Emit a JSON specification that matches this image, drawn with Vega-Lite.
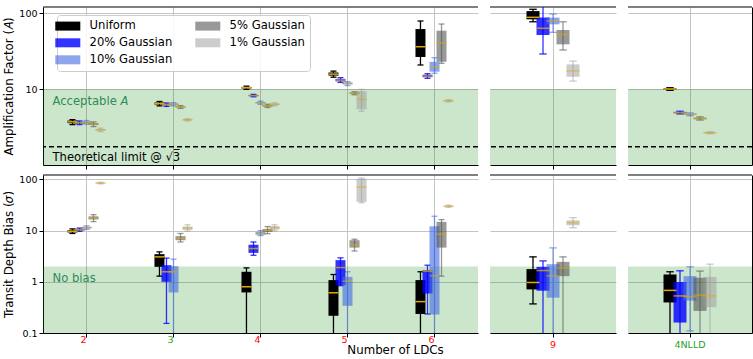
{
"$schema":"https://vega.github.io/schema/vega-lite/v6.json",
"padding":{"left":3,"top":6,"right":2,"bottom":0},
"data":{"values":[
{"metric":"A","ldc":"2","series":"Uniform","lo":3.4,"q1":3.55,"median":3.7,"q3":3.85,"hi":3.95},
{"metric":"A","ldc":"2","series":"20% Gaussian","lo":3.4,"q1":3.5,"median":3.6,"q3":3.7,"hi":3.8},
{"metric":"A","ldc":"2","series":"10% Gaussian","lo":3.45,"q1":3.55,"median":3.65,"q3":3.75,"hi":3.85},
{"metric":"A","ldc":"2","series":"5% Gaussian","lo":3.2,"q1":3.35,"median":3.45,"q3":3.58,"hi":3.7},
{"metric":"A","ldc":"2","series":"1% Gaussian","lo":2.75,"q1":2.83,"median":2.9,"q3":2.97,"hi":3.05},
{"metric":"A","ldc":"3","series":"Uniform","lo":6.0,"q1":6.25,"median":6.45,"q3":6.65,"hi":6.85},
{"metric":"A","ldc":"3","series":"20% Gaussian","lo":5.9,"q1":6.1,"median":6.25,"q3":6.4,"hi":6.55},
{"metric":"A","ldc":"3","series":"10% Gaussian","lo":6.0,"q1":6.15,"median":6.3,"q3":6.45,"hi":6.6},
{"metric":"A","ldc":"3","series":"5% Gaussian","lo":5.55,"q1":5.7,"median":5.8,"q3":5.92,"hi":6.05},
{"metric":"A","ldc":"3","series":"1% Gaussian","lo":3.8,"q1":3.87,"median":3.93,"q3":4.0,"hi":4.06},
{"metric":"A","ldc":"4","series":"Uniform","lo":9.9,"q1":10.15,"median":10.4,"q3":10.65,"hi":10.9},
{"metric":"A","ldc":"4","series":"20% Gaussian","lo":7.9,"q1":8.05,"median":8.2,"q3":8.35,"hi":8.5},
{"metric":"A","ldc":"4","series":"10% Gaussian","lo":6.3,"q1":6.45,"median":6.6,"q3":6.75,"hi":6.9},
{"metric":"A","ldc":"4","series":"5% Gaussian","lo":5.7,"q1":5.85,"median":6.0,"q3":6.15,"hi":6.3},
{"metric":"A","ldc":"4","series":"1% Gaussian","lo":6.0,"q1":6.15,"median":6.3,"q3":6.45,"hi":6.6},
{"metric":"A","ldc":"5","series":"Uniform","lo":14.3,"q1":15.0,"median":15.7,"q3":16.5,"hi":17.2},
{"metric":"A","ldc":"5","series":"20% Gaussian","lo":12.2,"q1":12.6,"median":13.1,"q3":13.6,"hi":14.1},
{"metric":"A","ldc":"5","series":"10% Gaussian","lo":11.1,"q1":11.5,"median":11.8,"q3":12.2,"hi":12.5},
{"metric":"A","ldc":"5","series":"5% Gaussian","lo":8.4,"q1":8.6,"median":8.8,"q3":9.0,"hi":9.2},
{"metric":"A","ldc":"5","series":"1% Gaussian","lo":5.1,"q1":5.4,"median":7.3,"q3":9.4,"hi":9.9},
{"metric":"A","ldc":"6","series":"Uniform","lo":20.7,"q1":26.4,"median":36,"q3":61.5,"hi":78.5},
{"metric":"A","ldc":"6","series":"20% Gaussian","lo":13.8,"q1":14.3,"median":14.8,"q3":15.4,"hi":15.9},
{"metric":"A","ldc":"6","series":"10% Gaussian","lo":16.1,"q1":16.9,"median":19.7,"q3":22.8,"hi":25.8},
{"metric":"A","ldc":"6","series":"5% Gaussian","lo":21.8,"q1":22.8,"median":40.6,"q3":58.5,"hi":71.7},
{"metric":"A","ldc":"6","series":"1% Gaussian","lo":6.75,"q1":6.88,"median":7.0,"q3":7.12,"hi":7.25},
{"metric":"A","ldc":"9","series":"Uniform","lo":76.7,"q1":82.6,"median":87.8,"q3":106,"hi":112},
{"metric":"A","ldc":"9","series":"20% Gaussian","lo":28.9,"q1":51.4,"median":63,"q3":87.3,"hi":130},
{"metric":"A","ldc":"9","series":"10% Gaussian","lo":55.7,"q1":71,"median":78.5,"q3":87,"hi":97},
{"metric":"A","ldc":"9","series":"5% Gaussian","lo":32.6,"q1":38.7,"median":52.3,"q3":59.8,"hi":76.7},
{"metric":"A","ldc":"9","series":"1% Gaussian","lo":12.7,"q1":14.5,"median":17.3,"q3":21.1,"hi":23.3},
{"metric":"A","ldc":"4NLLD","series":"Uniform","lo":9.6,"q1":9.8,"median":10.0,"q3":10.2,"hi":10.4},
{"metric":"A","ldc":"4NLLD","series":"20% Gaussian","lo":4.7,"q1":4.8,"median":4.9,"q3":5.0,"hi":5.1},
{"metric":"A","ldc":"4NLLD","series":"10% Gaussian","lo":4.45,"q1":4.55,"median":4.65,"q3":4.75,"hi":4.85},
{"metric":"A","ldc":"4NLLD","series":"5% Gaussian","lo":3.9,"q1":4.0,"median":4.1,"q3":4.2,"hi":4.3},
{"metric":"A","ldc":"4NLLD","series":"1% Gaussian","lo":2.58,"q1":2.62,"median":2.66,"q3":2.7,"hi":2.74},
{"metric":"B","ldc":"2","series":"Uniform","lo":8.8,"q1":9.2,"median":9.7,"q3":10.2,"hi":10.8},
{"metric":"B","ldc":"2","series":"20% Gaussian","lo":9.7,"q1":10.0,"median":10.4,"q3":10.8,"hi":11.2},
{"metric":"B","ldc":"2","series":"10% Gaussian","lo":10.6,"q1":11.0,"median":11.4,"q3":11.9,"hi":12.4},
{"metric":"B","ldc":"2","series":"5% Gaussian","lo":15,"q1":16.5,"median":17.7,"q3":19,"hi":20.5},
{"metric":"B","ldc":"2","series":"1% Gaussian","lo":82,"q1":83.5,"median":85,"q3":86.5,"hi":88},
{"metric":"B","ldc":"3","series":"Uniform","lo":1.29,"q1":1.96,"median":3.07,"q3":3.47,"hi":3.84},
{"metric":"B","ldc":"3","series":"20% Gaussian","lo":0.154,"q1":1.0,"median":1.57,"q3":2.11,"hi":2.9},
{"metric":"B","ldc":"3","series":"10% Gaussian","lo":0.05,"q1":0.62,"median":1.57,"q3":2.02,"hi":2.77},
{"metric":"B","ldc":"3","series":"5% Gaussian","lo":6.0,"q1":6.5,"median":7.1,"q3":7.8,"hi":8.8},
{"metric":"B","ldc":"3","series":"1% Gaussian","lo":9.8,"q1":10.3,"median":11.3,"q3":12.0,"hi":13.0},
{"metric":"B","ldc":"4","series":"Uniform","lo":0.05,"q1":0.62,"median":0.8,"q3":1.57,"hi":1.87},
{"metric":"B","ldc":"4","series":"20% Gaussian","lo":3.3,"q1":3.67,"median":4.46,"q3":5.3,"hi":6.0},
{"metric":"B","ldc":"4","series":"10% Gaussian","lo":8.0,"q1":8.3,"median":8.75,"q3":9.4,"hi":10.0},
{"metric":"B","ldc":"4","series":"5% Gaussian","lo":8.7,"q1":9.4,"median":10.1,"q3":10.8,"hi":12.0},
{"metric":"B","ldc":"4","series":"1% Gaussian","lo":10.0,"q1":10.5,"median":11.3,"q3":12.3,"hi":13.0},
{"metric":"B","ldc":"5","series":"Uniform","lo":0.05,"q1":0.217,"median":0.61,"q3":1.08,"hi":1.39},
{"metric":"B","ldc":"5","series":"20% Gaussian","lo":0.84,"q1":0.86,"median":1.9,"q3":2.65,"hi":2.94},
{"metric":"B","ldc":"5","series":"10% Gaussian","lo":0.05,"q1":0.34,"median":1.03,"q3":1.25,"hi":1.57},
{"metric":"B","ldc":"5","series":"5% Gaussian","lo":4.0,"q1":4.66,"median":5.2,"q3":6.5,"hi":6.8},
{"metric":"B","ldc":"5","series":"1% Gaussian","lo":35,"q1":36.3,"median":71,"q3":103,"hi":106},
{"metric":"B","ldc":"6","series":"Uniform","lo":0.05,"q1":0.235,"median":0.41,"q3":1.08,"hi":1.57},
{"metric":"B","ldc":"6","series":"20% Gaussian","lo":0.235,"q1":0.59,"median":1.62,"q3":1.69,"hi":2.11},
{"metric":"B","ldc":"6","series":"10% Gaussian","lo":0.05,"q1":0.23,"median":1.31,"q3":12.2,"hi":19.1},
{"metric":"B","ldc":"6","series":"5% Gaussian","lo":1.29,"q1":4.66,"median":8.5,"q3":14.8,"hi":16.4},
{"metric":"B","ldc":"6","series":"1% Gaussian","lo":28.5,"q1":29.2,"median":29.9,"q3":30.6,"hi":31.5},
{"metric":"B","ldc":"9","series":"Uniform","lo":0.37,"q1":0.71,"median":0.97,"q3":1.77,"hi":3.07},
{"metric":"B","ldc":"9","series":"20% Gaussian","lo":0.05,"q1":0.67,"median":1.66,"q3":1.96,"hi":2.56},
{"metric":"B","ldc":"9","series":"10% Gaussian","lo":0.05,"q1":0.49,"median":1.31,"q3":2.21,"hi":4.6},
{"metric":"B","ldc":"9","series":"5% Gaussian","lo":0.05,"q1":1.29,"median":1.87,"q3":2.45,"hi":3.07},
{"metric":"B","ldc":"9","series":"1% Gaussian","lo":11.4,"q1":12.7,"median":14.3,"q3":15.9,"hi":17.9},
{"metric":"B","ldc":"4NLLD","series":"Uniform","lo":0.05,"q1":0.395,"median":0.68,"q3":1.39,"hi":1.57},
{"metric":"B","ldc":"4NLLD","series":"20% Gaussian","lo":0.05,"q1":0.16,"median":0.53,"q3":0.99,"hi":1.64},
{"metric":"B","ldc":"4NLLD","series":"10% Gaussian","lo":0.11,"q1":0.43,"median":0.51,"q3":1.29,"hi":1.96},
{"metric":"B","ldc":"4NLLD","series":"5% Gaussian","lo":0.05,"q1":0.27,"median":0.55,"q3":1.2,"hi":1.62},
{"metric":"B","ldc":"4NLLD","series":"1% Gaussian","lo":0.05,"q1":0.32,"median":0.53,"q3":1.25,"hi":2.21}
]},
"columns":3,
"spacing":{"row":4,"column":10},
"resolve":{"scale":{"x":"independent","y":"independent","xOffset":"independent","color":"shared","opacity":"shared"}},
"concat":[
{"width":435,"height":158,"layer":[
 {"data":{"values":[{}]},"mark":{"type":"rect","color":"green","opacity":0.2},"encoding":{"y":{"datum":1},"y2":{"datum":10}}},
 {"data":{"values":[{}]},"mark":{"type":"rule","color":"black","strokeWidth":1},"encoding":{"y":{"datum":120}}},
 {"data":{"values":[{}]},"mark":{"type":"rule","color":"black","strokeWidth":1.5,"strokeDash":[5,3]},"encoding":{"y":{"datum":1.732}}},
 {"data":{"values":[{}]},"mark":{"type":"text","text":"Acceptable","align":"left","baseline":"middle","dx":-34,"fontSize":11.6,"color":"#2e8b57"},"encoding":{"x":{"datum":"2","type":"nominal"},"y":{"datum":6.74}}},
 {"data":{"values":[{}]},"mark":{"type":"text","text":"A","fontStyle":"italic","align":"left","baseline":"middle","dx":34,"fontSize":11.6,"color":"#2e8b57"},"encoding":{"x":{"datum":"2","type":"nominal"},"y":{"datum":6.74}}},
 {"data":{"values":[{}]},"mark":{"type":"text","text":"Theoretical limit @ √3̅","align":"left","baseline":"middle","dx":-34,"fontSize":11.6,"color":"black"},"encoding":{"x":{"datum":"2","type":"nominal"},"y":{"datum":1.236}}},
 {"transform":[{"filter":{"and":[{"field":"metric","equal":"A"},{"field":"ldc","oneOf":["2","3","4","5","6"]}]}}],
  "encoding":{
   "x":{"field":"ldc","type":"nominal","sort":null,"scale":{"domain":["2","3","4","5","6"],"paddingInner":0,"paddingOuter":0},"axis":{"labels":false,"title":null,"grid":true}},
   "xOffset":{"field":"series","type":"nominal","sort":null,"scale":{"domain":["_a","_b","_c","Uniform","20% Gaussian","10% Gaussian","5% Gaussian","1% Gaussian","_d","_e","_f"],"paddingInner":0,"paddingOuter":0.7}},
   "color":{"field":"series","type":"nominal","scale":{"domain":["Uniform","20% Gaussian","10% Gaussian","5% Gaussian","1% Gaussian"],"range":["#000000","#0000ff","#4169e1","#555555","#999999"]},"legend":{"title":null,"encode":{"symbols":{"update":{"fill":{"signal":"datum.value=='Uniform'?'#000000':datum.value=='20% Gaussian'?'#3333ff':datum.value=='10% Gaussian'?'#8da5ed':datum.value=='5% Gaussian'?'#999999':'#cccccc'"},"stroke":{"value":"transparent"},"opacity":{"value":1}}}}}},
   "opacity":{"field":"series","type":"nominal","scale":{"type":"ordinal","domain":["Uniform","20% Gaussian","10% Gaussian","5% Gaussian","1% Gaussian"],"range":[1,0.8,0.6,0.6,0.5]},"legend":null}
  },
  "layer":[
   {"mark":{"type":"rule","clip":true,"strokeWidth":1.3},"encoding":{"y":{"field":"lo","type":"quantitative","scale":{"type":"log","domain":[1,120],"nice":false},"axis":{"values":[10,100],"format":"~g","title":"Amplification Factor (𝐴)","grid":true}},"y2":{"field":"hi"}}},
   {"mark":{"type":"tick","clip":true,"size":6,"thickness":1.3},"encoding":{"y":{"field":"lo","type":"quantitative"}}},
   {"mark":{"type":"tick","clip":true,"size":6,"thickness":1.3},"encoding":{"y":{"field":"hi","type":"quantitative"}}},
   {"mark":{"type":"bar","clip":true,"width":10},"encoding":{"y":{"field":"q1","type":"quantitative"},"y2":{"field":"q3"}}},
   {"mark":{"type":"tick","clip":true,"size":10,"thickness":1.5},"encoding":{"y":{"field":"median","type":"quantitative"},"color":{"value":"#e0a800"}}}
  ]}
]},
{"width":126,"height":158,"layer":[
 {"data":{"values":[{}]},"mark":{"type":"rect","color":"green","opacity":0.2},"encoding":{"y":{"datum":1},"y2":{"datum":10}}},
 {"data":{"values":[{}]},"mark":{"type":"rule","color":"black","strokeWidth":1},"encoding":{"y":{"datum":120}}},
 {"data":{"values":[{}]},"mark":{"type":"rule","color":"black","strokeWidth":1.5,"strokeDash":[5,3]},"encoding":{"y":{"datum":1.732}}},
 {"transform":[{"filter":{"and":[{"field":"metric","equal":"A"},{"field":"ldc","equal":"9"}]}}],
  "encoding":{
   "x":{"field":"ldc","type":"nominal","sort":null,"scale":{"domain":["9"],"paddingInner":0,"paddingOuter":0},"axis":{"labels":false,"title":null,"grid":true}},
   "xOffset":{"field":"series","type":"nominal","sort":null,"scale":{"domain":["_a","_b","_c","Uniform","20% Gaussian","10% Gaussian","5% Gaussian","1% Gaussian","_d","_e","_f"],"paddingInner":0,"paddingOuter":0.8}},
   "color":{"field":"series","type":"nominal","scale":{"domain":["Uniform","20% Gaussian","10% Gaussian","5% Gaussian","1% Gaussian"],"range":["#000000","#0000ff","#4169e1","#555555","#999999"]},"legend":null},
   "opacity":{"field":"series","type":"nominal","scale":{"type":"ordinal","domain":["Uniform","20% Gaussian","10% Gaussian","5% Gaussian","1% Gaussian"],"range":[1,0.8,0.6,0.6,0.5]},"legend":null}
  },
  "layer":[
   {"mark":{"type":"rule","clip":true,"strokeWidth":1.3},"encoding":{"y":{"field":"lo","type":"quantitative","scale":{"type":"log","domain":[1,120],"nice":false},"axis":{"values":[10,100],"labels":false,"ticks":false,"domain":false,"title":null,"grid":true}},"y2":{"field":"hi"}}},
   {"mark":{"type":"tick","clip":true,"size":7.5,"thickness":1.3},"encoding":{"y":{"field":"lo","type":"quantitative"}}},
   {"mark":{"type":"tick","clip":true,"size":7.5,"thickness":1.3},"encoding":{"y":{"field":"hi","type":"quantitative"}}},
   {"mark":{"type":"bar","clip":true,"width":13},"encoding":{"y":{"field":"q1","type":"quantitative"},"y2":{"field":"q3"}}},
   {"mark":{"type":"tick","clip":true,"size":13,"thickness":1.5},"encoding":{"y":{"field":"median","type":"quantitative"},"color":{"value":"#e0a800"}}}
  ]}
]},
{"width":124,"height":158,"layer":[
 {"data":{"values":[{}]},"mark":{"type":"rect","color":"green","opacity":0.2},"encoding":{"y":{"datum":1},"y2":{"datum":10}}},
 {"data":{"values":[{}]},"mark":{"type":"rule","color":"black","strokeWidth":1},"encoding":{"y":{"datum":120}}},
 {"data":{"values":[{}]},"mark":{"type":"rule","color":"black","strokeWidth":1.5,"strokeDash":[5,3]},"encoding":{"y":{"datum":1.732}}},
 {"transform":[{"filter":{"and":[{"field":"metric","equal":"A"},{"field":"ldc","equal":"4NLLD"}]}}],
  "encoding":{
   "x":{"field":"ldc","type":"nominal","sort":null,"scale":{"domain":["4NLLD"],"paddingInner":0,"paddingOuter":0},"axis":{"labels":false,"title":null,"grid":true}},
   "xOffset":{"field":"series","type":"nominal","sort":null,"scale":{"domain":["_a","_b","_c","Uniform","20% Gaussian","10% Gaussian","5% Gaussian","1% Gaussian","_d","_e","_f"],"paddingInner":0,"paddingOuter":0.7}},
   "color":{"field":"series","type":"nominal","scale":{"domain":["Uniform","20% Gaussian","10% Gaussian","5% Gaussian","1% Gaussian"],"range":["#000000","#0000ff","#4169e1","#555555","#999999"]},"legend":null},
   "opacity":{"field":"series","type":"nominal","scale":{"type":"ordinal","domain":["Uniform","20% Gaussian","10% Gaussian","5% Gaussian","1% Gaussian"],"range":[1,0.8,0.6,0.6,0.5]},"legend":null}
  },
  "layer":[
   {"mark":{"type":"rule","clip":true,"strokeWidth":1.3},"encoding":{"y":{"field":"lo","type":"quantitative","scale":{"type":"log","domain":[1,120],"nice":false},"axis":{"orient":"right","values":[10,100],"labels":false,"ticks":false,"domain":true,"title":null,"grid":true}},"y2":{"field":"hi"}}},
   {"mark":{"type":"tick","clip":true,"size":7.5,"thickness":1.3},"encoding":{"y":{"field":"lo","type":"quantitative"}}},
   {"mark":{"type":"tick","clip":true,"size":7.5,"thickness":1.3},"encoding":{"y":{"field":"hi","type":"quantitative"}}},
   {"mark":{"type":"bar","clip":true,"width":13},"encoding":{"y":{"field":"q1","type":"quantitative"},"y2":{"field":"q3"}}},
   {"mark":{"type":"tick","clip":true,"size":13,"thickness":1.5},"encoding":{"y":{"field":"median","type":"quantitative"},"color":{"value":"#e0a800"}}}
  ]}
]},
{"width":435,"height":158,"layer":[
 {"data":{"values":[{}]},"mark":{"type":"rect","color":"green","opacity":0.2},"encoding":{"y":{"datum":0.1},"y2":{"datum":2}}},
 {"data":{"values":[{}]},"mark":{"type":"rule","color":"black","strokeWidth":1},"encoding":{"y":{"datum":122}}},
 {"data":{"values":[{}]},"mark":{"type":"text","text":"No bias","align":"left","baseline":"middle","dx":-34,"fontSize":11.6,"color":"#2e8b57"},"encoding":{"x":{"datum":"2","type":"nominal"},"y":{"datum":1.15}}},
 {"transform":[{"filter":{"and":[{"field":"metric","equal":"B"},{"field":"ldc","oneOf":["2","3","4","5","6"]}]}}],
  "encoding":{
   "x":{"field":"ldc","type":"nominal","sort":null,"scale":{"domain":["2","3","4","5","6"],"paddingInner":0,"paddingOuter":0},"axis":{"title":"Number of LDCs","titleX":352,"titlePadding":1,"labelAngle":0,"grid":true,"labelColor":{"condition":{"test":"datum.value=='3'||datum.value=='4NLLD'","value":"#2ca02c"},"value":"red"}}},
   "xOffset":{"field":"series","type":"nominal","sort":null,"scale":{"domain":["_a","_b","_c","Uniform","20% Gaussian","10% Gaussian","5% Gaussian","1% Gaussian","_d","_e","_f"],"paddingInner":0,"paddingOuter":0.7}},
   "color":{"field":"series","type":"nominal","scale":{"domain":["Uniform","20% Gaussian","10% Gaussian","5% Gaussian","1% Gaussian"],"range":["#000000","#0000ff","#4169e1","#555555","#999999"]},"legend":null},
   "opacity":{"field":"series","type":"nominal","scale":{"type":"ordinal","domain":["Uniform","20% Gaussian","10% Gaussian","5% Gaussian","1% Gaussian"],"range":[1,0.8,0.6,0.6,0.5]},"legend":null}
  },
  "layer":[
   {"mark":{"type":"rule","clip":true,"strokeWidth":1.3},"encoding":{"y":{"field":"lo","type":"quantitative","scale":{"type":"log","domain":[0.1,122],"nice":false},"axis":{"values":[0.1,1,10,100],"format":"~g","title":"Transit Depth Bias (𝜎)","grid":true}},"y2":{"field":"hi"}}},
   {"mark":{"type":"tick","clip":true,"size":6,"thickness":1.3},"encoding":{"y":{"field":"lo","type":"quantitative"}}},
   {"mark":{"type":"tick","clip":true,"size":6,"thickness":1.3},"encoding":{"y":{"field":"hi","type":"quantitative"}}},
   {"mark":{"type":"bar","clip":true,"width":10},"encoding":{"y":{"field":"q1","type":"quantitative"},"y2":{"field":"q3"}}},
   {"mark":{"type":"tick","clip":true,"size":10,"thickness":1.5},"encoding":{"y":{"field":"median","type":"quantitative"},"color":{"value":"#e0a800"}}}
  ]}
]},
{"width":126,"height":158,"layer":[
 {"data":{"values":[{}]},"mark":{"type":"rect","color":"green","opacity":0.2},"encoding":{"y":{"datum":0.1},"y2":{"datum":2}}},
 {"data":{"values":[{}]},"mark":{"type":"rule","color":"black","strokeWidth":1},"encoding":{"y":{"datum":122}}},
 {"transform":[{"filter":{"and":[{"field":"metric","equal":"B"},{"field":"ldc","equal":"9"}]}}],
  "encoding":{
   "x":{"field":"ldc","type":"nominal","sort":null,"scale":{"domain":["9"],"paddingInner":0,"paddingOuter":0},"axis":{"title":null,"labelAngle":0,"grid":true,"labelColor":"red"}},
   "xOffset":{"field":"series","type":"nominal","sort":null,"scale":{"domain":["_a","_b","_c","Uniform","20% Gaussian","10% Gaussian","5% Gaussian","1% Gaussian","_d","_e","_f"],"paddingInner":0,"paddingOuter":0.8}},
   "color":{"field":"series","type":"nominal","scale":{"domain":["Uniform","20% Gaussian","10% Gaussian","5% Gaussian","1% Gaussian"],"range":["#000000","#0000ff","#4169e1","#555555","#999999"]},"legend":null},
   "opacity":{"field":"series","type":"nominal","scale":{"type":"ordinal","domain":["Uniform","20% Gaussian","10% Gaussian","5% Gaussian","1% Gaussian"],"range":[1,0.8,0.6,0.6,0.5]},"legend":null}
  },
  "layer":[
   {"mark":{"type":"rule","clip":true,"strokeWidth":1.3},"encoding":{"y":{"field":"lo","type":"quantitative","scale":{"type":"log","domain":[0.1,122],"nice":false},"axis":{"values":[0.1,1,10,100],"labels":false,"ticks":false,"domain":false,"title":null,"grid":true}},"y2":{"field":"hi"}}},
   {"mark":{"type":"tick","clip":true,"size":7.5,"thickness":1.3},"encoding":{"y":{"field":"lo","type":"quantitative"}}},
   {"mark":{"type":"tick","clip":true,"size":7.5,"thickness":1.3},"encoding":{"y":{"field":"hi","type":"quantitative"}}},
   {"mark":{"type":"bar","clip":true,"width":13},"encoding":{"y":{"field":"q1","type":"quantitative"},"y2":{"field":"q3"}}},
   {"mark":{"type":"tick","clip":true,"size":13,"thickness":1.5},"encoding":{"y":{"field":"median","type":"quantitative"},"color":{"value":"#e0a800"}}}
  ]}
]},
{"width":124,"height":158,"layer":[
 {"data":{"values":[{}]},"mark":{"type":"rect","color":"green","opacity":0.2},"encoding":{"y":{"datum":0.1},"y2":{"datum":2}}},
 {"data":{"values":[{}]},"mark":{"type":"rule","color":"black","strokeWidth":1},"encoding":{"y":{"datum":122}}},
 {"transform":[{"filter":{"and":[{"field":"metric","equal":"B"},{"field":"ldc","equal":"4NLLD"}]}}],
  "encoding":{
   "x":{"field":"ldc","type":"nominal","sort":null,"scale":{"domain":["4NLLD"],"paddingInner":0,"paddingOuter":0},"axis":{"title":null,"labelAngle":0,"grid":true,"labelColor":"#2ca02c"}},
   "xOffset":{"field":"series","type":"nominal","sort":null,"scale":{"domain":["_a","_b","_c","Uniform","20% Gaussian","10% Gaussian","5% Gaussian","1% Gaussian","_d","_e","_f"],"paddingInner":0,"paddingOuter":0.7}},
   "color":{"field":"series","type":"nominal","scale":{"domain":["Uniform","20% Gaussian","10% Gaussian","5% Gaussian","1% Gaussian"],"range":["#000000","#0000ff","#4169e1","#555555","#999999"]},"legend":null},
   "opacity":{"field":"series","type":"nominal","scale":{"type":"ordinal","domain":["Uniform","20% Gaussian","10% Gaussian","5% Gaussian","1% Gaussian"],"range":[1,0.8,0.6,0.6,0.5]},"legend":null}
  },
  "layer":[
   {"mark":{"type":"rule","clip":true,"strokeWidth":1.3},"encoding":{"y":{"field":"lo","type":"quantitative","scale":{"type":"log","domain":[0.1,122],"nice":false},"axis":{"orient":"right","values":[0.1,1,10,100],"labels":false,"ticks":false,"domain":true,"title":null,"grid":true}},"y2":{"field":"hi"}}},
   {"mark":{"type":"tick","clip":true,"size":7.5,"thickness":1.3},"encoding":{"y":{"field":"lo","type":"quantitative"}}},
   {"mark":{"type":"tick","clip":true,"size":7.5,"thickness":1.3},"encoding":{"y":{"field":"hi","type":"quantitative"}}},
   {"mark":{"type":"bar","clip":true,"width":13},"encoding":{"y":{"field":"q1","type":"quantitative"},"y2":{"field":"q3"}}},
   {"mark":{"type":"tick","clip":true,"size":13,"thickness":1.5},"encoding":{"y":{"field":"median","type":"quantitative"},"color":{"value":"#e0a800"}}}
  ]}
]}
],
"config":{
 "font":"DejaVu Sans",
 "view":{"stroke":null},
 "axis":{"labelFont":"DejaVu Sans","titleFont":"DejaVu Sans","labelFontSize":9.5,"titleFontSize":11.8,"titleFontWeight":"normal","labelColor":"black","titleColor":"black","domainColor":"black","tickColor":"black","tickSize":4,"labelPadding":2,"gridColor":"#c4c4c4","gridWidth":1,"domainWidth":1},
 "legend":{"orient":"none","legendX":14,"legendY":8,"columns":2,"symbolType":"M-2.78,-1H2.78V1H-2.78Z","symbolSize":81,"symbolStrokeWidth":0,"labelFont":"DejaVu Sans","labelFontSize":11.6,"labelColor":"black","labelOffset":16,"columnPadding":22,"rowPadding":4,"padding":5,"strokeColor":"#cccccc","fillColor":"rgba(255,255,255,0.85)","cornerRadius":3},
 "text":{"font":"DejaVu Sans"}
}
}
